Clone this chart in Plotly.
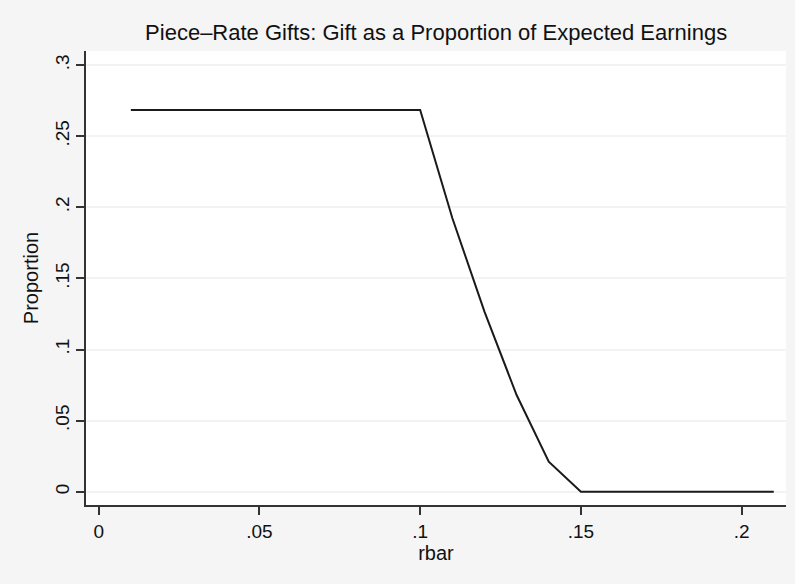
import plotly.graph_objects as go

rbar = [0.01, 0.02, 0.03, 0.04, 0.05, 0.06, 0.07, 0.08, 0.09, 0.10, 0.11,
        0.12, 0.13, 0.14, 0.15, 0.16, 0.17, 0.18, 0.19, 0.20, 0.21]
proportion = [0.2684, 0.2684, 0.2684, 0.2684, 0.2684, 0.2684, 0.2684, 0.2684,
              0.2684, 0.2684, 0.1925, 0.1266, 0.068, 0.0211, 0.0, 0.0, 0.0,
              0.0, 0.0, 0.0, 0.0]
x_ticks = [0, 0.05, 0.1, 0.15, 0.2]
x_labels = ["0", ".05", ".1", ".15", ".2"]
y_ticks = [0, 0.05, 0.1, 0.15, 0.2, 0.25, 0.3]
y_labels = ["0", ".05", ".1", ".15", ".2", ".25", ".3"]

font = "Liberation Sans, Arial, Helvetica, sans-serif"

fig = go.Figure(go.Scatter(x=rbar, y=proportion, mode="lines",
                           line=dict(color="#1a1a1a", width=2)))

fig.update_layout(
    width=795, height=584,
    margin=dict(l=86, r=9, t=51, b=79),
    paper_bgcolor="#F5F5F5", plot_bgcolor="#FFFFFF",
    showlegend=False,
    font=dict(family=font, size=19, color="#111111"),
    title=dict(text="Piece\u2013Rate Gifts: Gift as a Proportion of Expected Earnings",
               x=0.5486, xanchor="center", y=0.932, yanchor="bottom",
               font=dict(size=22, family=font, color="#111111")),
)
fig.update_xaxes(
    range=[-0.00395, 0.2138], tickvals=x_ticks, ticktext=x_labels,
    showgrid=False, zeroline=False, showline=True, linecolor="#333333", linewidth=1.5,
    ticks="outside", ticklen=8, tickcolor="#333333", tickwidth=1.5,
    tickfont=dict(size=19), title=dict(text="rbar", font=dict(size=20), standoff=3),
)
fig.update_yaxes(
    range=[-0.00935, 0.3099], tickvals=y_ticks, ticktext=y_labels, tickangle=-90,
    showgrid=True, gridcolor="#F3F3F3", gridwidth=1.5, zeroline=False,
    showline=True, linecolor="#333333", linewidth=1.5,
    ticks="outside", ticklen=8, tickcolor="#333333", tickwidth=1.5,
    tickfont=dict(size=19), title=dict(text="Proportion", font=dict(size=20), standoff=8),
)

fig.write_html("out.html")
